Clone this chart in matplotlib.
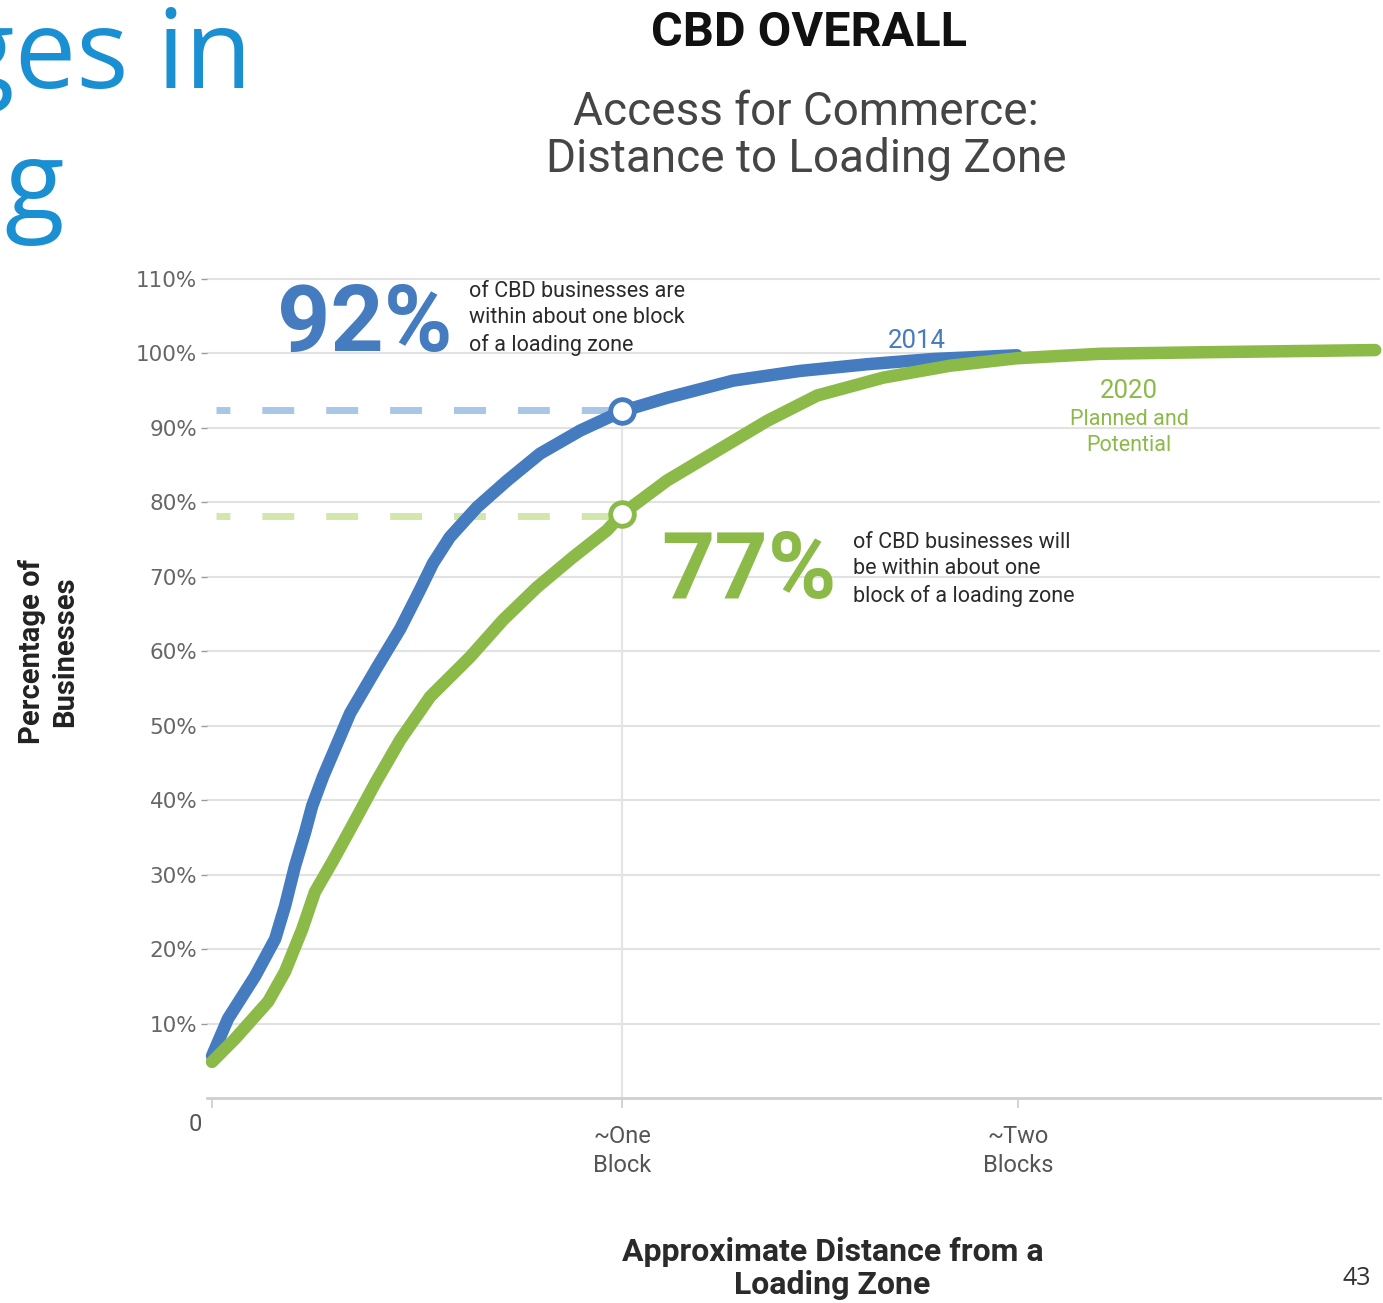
import numpy as np
import matplotlib
matplotlib.use("Agg")
import matplotlib.pyplot as plt

# distance in blocks vs. cumulative share of CBD businesses (%)
dist_2014 = [0.0, 0.039, 0.105, 0.154, 0.178, 0.202, 0.227, 0.244, 0.271, 0.337,
             0.402, 0.459, 0.507, 0.539, 0.580, 0.646, 0.720, 0.800, 0.898, 1.0,
             1.110, 1.271, 1.434, 1.598, 1.759, 1.922, 1.963]
pct_2014 = [5.7, 10.7, 16.4, 21.4, 25.8, 31.1, 35.7, 39.2, 43.2, 51.7,
            57.8, 63.0, 68.2, 71.8, 75.3, 79.3, 82.9, 86.5, 89.6, 92.2,
            94.0, 96.3, 97.6, 98.5, 99.2, 99.6, 99.7]

dist_2020 = [0.0, 0.056, 0.137, 0.178, 0.220, 0.251, 0.293, 0.341, 0.398, 0.459,
             0.532, 0.629, 0.710, 0.793, 0.880, 0.963, 1.0, 1.110, 1.232, 1.354,
             1.476, 1.637, 1.800, 1.963, 2.166, 2.410, 2.837]
pct_2020 = [4.9, 8.0, 13.0, 17.0, 22.7, 27.7, 31.7, 36.5, 42.3, 48.1,
            53.9, 59.2, 64.2, 68.6, 72.6, 76.2, 78.4, 82.9, 86.9, 90.9,
            94.3, 96.7, 98.3, 99.3, 99.9, 100.1, 100.4]

one_block = 1.0
share_2014 = 92.2
share_2020 = 78.4

y_ticks = [10, 20, 30, 40, 50, 60, 70, 80, 90, 100, 110]
x_ticks = [0, 1, 1.966]
x_labels = ["", "~One\nBlock", "~Two\nBlocks"]

BLUE = "#457bbf"
GREEN = "#8cba48"
LIGHT_BLUE = "#a9c6e6"
LIGHT_GREEN = "#d3e7ad"
FONT = "Roboto"

fig = plt.figure(figsize=(13.83, 13.03), dpi=100)
fig.patch.set_facecolor("white")
ax = fig.add_axes([0.1497, 0.157, 0.8482, 0.6304])
ax.set_xlim(-0.0122, 2.849)
ax.set_ylim(0, 110.2)

for s in ["top", "right", "left"]:
    ax.spines[s].set_visible(False)
ax.spines["bottom"].set_color("#cfcfcf")
ax.spines["bottom"].set_linewidth(2)

ax.set_yticks(y_ticks)
ax.set_yticklabels([f"{v}%" for v in y_ticks], fontsize=15.5, color="#666666",
                   family="DejaVu Sans")
ax.tick_params(axis="y", length=4, width=1, color="#9a9a9a", pad=3)
ax.set_xticks(x_ticks)
ax.set_xticklabels(x_labels, fontsize=17, color="#555555", family=FONT,
                   linespacing=1.35)
ax.tick_params(axis="x", length=7, width=1.2, color="#cccccc", pad=12)
ax.annotate("0", xy=(0, 0), xytext=(-12, -19), textcoords="offset points",
            fontsize=17, color="#555555", family=FONT, ha="center", va="center",
            annotation_clip=False)
ax.grid(axis="y", color="#e2e2e2", linewidth=1.5)
ax.set_axisbelow(True)

# guide from the marker down to the axis
ax.plot([one_block, one_block], [0, share_2014], color="#e4e4e4", lw=1.5, zorder=1)

# dashed reference lines
ax.plot([0.01, one_block - 0.03], [share_2014 + 0.2, share_2014 + 0.2], color=LIGHT_BLUE,
        lw=5, ls=(2.6, (4.6, 4.6)), solid_capstyle="butt", zorder=2)
ax.plot([0.01, one_block - 0.03], [share_2020 - 0.2, share_2020 - 0.2], color=LIGHT_GREEN,
        lw=5, ls=(2.6, (4.6, 4.6)), solid_capstyle="butt", zorder=2)

ax.plot(dist_2014, pct_2014, color=BLUE, lw=9, solid_capstyle="round",
        solid_joinstyle="round", clip_on=False, zorder=3)
ax.plot(dist_2020, pct_2020, color=GREEN, lw=9, solid_capstyle="round",
        solid_joinstyle="round", clip_on=False, zorder=4)

ax.plot([one_block], [share_2014], "o", ms=17, mfc="white", mec=BLUE, mew=3.5, zorder=5)
ax.plot([one_block], [share_2020], "o", ms=17, mfc="white", mec=GREEN, mew=3.5, zorder=5)

# callouts
ax.text(0.158, 100.3, "92%", color=BLUE, fontsize=67, fontweight="bold",
        family=FONT, va="baseline", ha="left", zorder=6)
ax.text(0.627, 109.7, "of CBD businesses are\nwithin about one block\nof a loading zone",
        fontsize=15.5, color="#2a2a2a", family=FONT, va="top", ha="left",
        linespacing=1.34, zorder=6)
ax.text(1.095, 67.1, "77%", color=GREEN, fontsize=67, fontweight="bold",
        family=FONT, va="baseline", ha="left", zorder=6)
ax.text(1.563, 76.0, "of CBD businesses will\nbe within about one\nblock of a loading zone",
        fontsize=15.5, color="#2a2a2a", family=FONT, va="top", ha="left",
        linespacing=1.34, zorder=6)

ax.text(1.72, 101.6, "2014", color=BLUE, fontsize=18.5, family=FONT, ha="center",
        va="center")
ax.text(2.237, 94.9, "2020", color=GREEN, fontsize=18.5, family=FONT, ha="center",
        va="center")
ax.text(2.237, 89.3, "Planned and\nPotential", color=GREEN, fontsize=15.5, family=FONT,
        ha="center", va="center", linespacing=1.32)

# titles
fig.text(0.585, 0.975, "CBD OVERALL", fontsize=35, fontweight="bold", family=FONT,
         color="#111111", ha="center", va="center")
fig.text(0.583, 0.896, "Access for Commerce:\nDistance to Loading Zone", fontsize=33,
         family=FONT, color="#454545", ha="center", va="center", linespacing=1.1)

fig.text(0.035, 0.5, "Percentage of\nBusinesses", rotation=90, fontsize=21,
         fontweight="bold", family=FONT, color="#222222", ha="center", va="center",
         linespacing=1.25)
fig.text(0.602, 0.0265, "Approximate Distance from a\nLoading Zone", fontsize=23,
         fontweight="bold", family=FONT, color="#2a2a2a", ha="center", va="center",
         linespacing=1.15)

# slide title fragment and page number
fig.text(0.1822, 0.9325, "ges in", fontsize=79, family="Open Sans", color="#1a90d2",
         ha="right", va="baseline")
fig.text(0.003, 0.831, "g", fontsize=79, family="Open Sans", color="#1a90d2",
         ha="left", va="baseline")
fig.text(0.981, 0.019, "43", fontsize=18, family="Open Sans", color="#333333",
         ha="center", va="center")

fig.savefig("out.png", dpi=100, facecolor="white")
